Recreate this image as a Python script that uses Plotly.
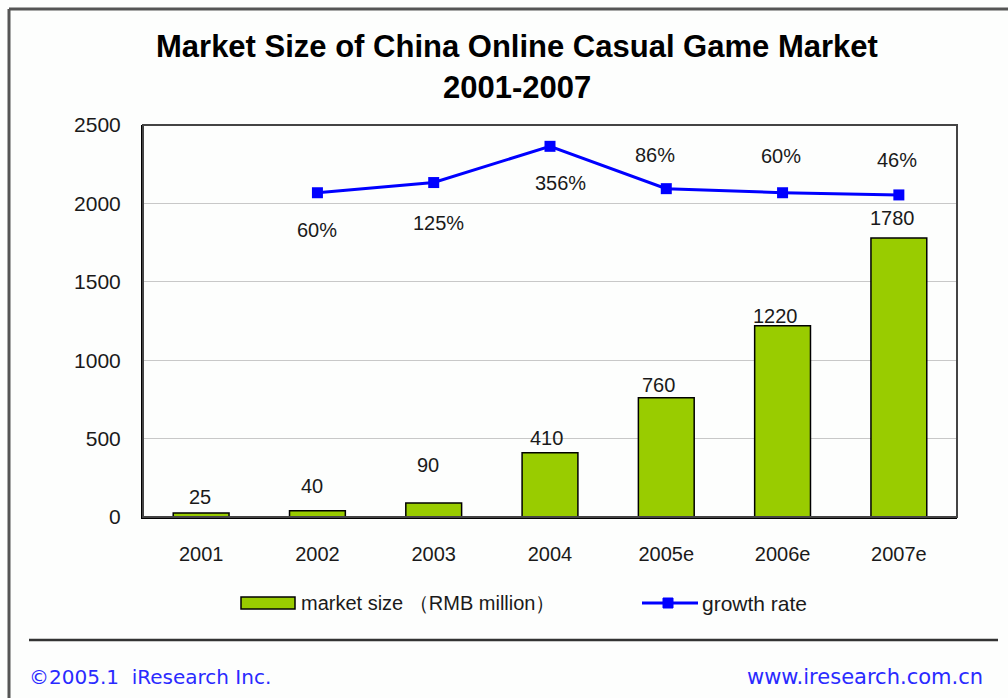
import plotly.graph_objects as go

# ---------------- data ----------------
years = ["2001", "2002", "2003", "2004", "2005e", "2006e", "2007e"]
market_size = [25, 40, 90, 410, 760, 1220, 1780]          # RMB million
growth_years = ["2002", "2003", "2004", "2005e", "2006e", "2007e"]
growth_rate = [60, 125, 356, 86, 60, 46]                    # %
y_ticks = [0, 500, 1000, 1500, 2000, 2500]

# category positions on the x scale
x_pos = list(range(len(years)))
growth_pos = [years.index(c) for c in growth_years]

# ---------------- styles (label offsets in px) ----------------
bar_label_dx = [-1, -5, -6, -4, -8, -7, -6]
bar_label_dy = [16, 25, 38, 15, 13, 10, 20]
growth_label_dx = [0, 5, 10, -11, -2, -2]
growth_label_dy = [-37, -40, -37, 34, 37, 35]

W, H = 1008, 698
L, R, T, B = 143, 957, 125, 517   # plot area in px


def px(x):
    return (x - L) / (R - L)


def py(y):
    return (B - y) / (B - T)


FONT = "Liberation Sans, Arial, sans-serif"
TXT = "#1a1a1a"
LBL = 20

fig = go.Figure()
fig.add_trace(go.Bar(
    x=x_pos, y=market_size, name="market size （RMB million）",
    marker=dict(color="#99CC00", line=dict(color="#000000", width=1.5)),
    width=0.48, showlegend=False, hovertext=years, hoverinfo="text+y",
))
fig.add_trace(go.Scatter(
    x=growth_pos, y=growth_rate, name="growth rate", yaxis="y2",
    mode="lines+markers",
    line=dict(color="#0000FF", width=3),
    marker=dict(symbol="square", size=11, color="#0000FF"),
    showlegend=False, hovertext=growth_years, hoverinfo="text+y",
))

annotations = []
for i, (c, v) in enumerate(zip(x_pos, market_size)):
    annotations.append(dict(x=c, y=v, xref="x", yref="y", text=str(v), showarrow=False,
                            xshift=bar_label_dx[i], yshift=bar_label_dy[i], yanchor="middle",
                            font=dict(family=FONT, size=LBL, color=TXT)))
for i, (c, g) in enumerate(zip(growth_pos, growth_rate)):
    annotations.append(dict(x=c, y=g, xref="x", yref="y2", text=f"{g}%", showarrow=False,
                            xshift=growth_label_dx[i], yshift=growth_label_dy[i], yanchor="middle",
                            font=dict(family=FONT, size=LBL, color=TXT)))

# title
annotations.append(dict(x=px(517), y=py(47), xref="paper", yref="paper", showarrow=False,
                        yanchor="middle", text="<b>Market Size of China Online Casual Game Market</b>",
                        font=dict(family=FONT, size=31, color="#000000")))
annotations.append(dict(x=px(517), y=py(88), xref="paper", yref="paper", showarrow=False,
                        yanchor="middle", text="<b>2001-2007</b>",
                        font=dict(family=FONT, size=31, color="#000000")))
# legend texts
annotations.append(dict(x=px(299), y=py(603), xref="paper", yref="paper", showarrow=False,
                        xanchor="left", yanchor="middle", text="market size （RMB million）",
                        font=dict(family=FONT, size=20, color=TXT)))
annotations.append(dict(x=px(700), y=py(603), xref="paper", yref="paper", showarrow=False,
                        xanchor="left", yanchor="middle", text="growth rate",
                        font=dict(family=FONT, size=21, color=TXT)))
# footer
FOOT = "DejaVu Sans, sans-serif"
annotations.append(dict(x=px(27), y=py(677), xref="paper", yref="paper", showarrow=False,
                        xanchor="left", yanchor="middle", text="©2005.1  iResearch Inc.",
                        font=dict(family=FOOT, size=20, color="#2a2aff")))
annotations.append(dict(x=px(985), y=py(677), xref="paper", yref="paper", showarrow=False,
                        xanchor="right", yanchor="middle", text="www.iresearch.com.cn",
                        font=dict(family=FOOT, size=21, color="#2a2aff")))

shapes = [
    # plot border (top/right gray)
    dict(type="rect", xref="paper", yref="paper", x0=0, x1=1, y0=0, y1=1,
         line=dict(color="#444444", width=2), layer="above"),
    # outer frame: top and left
    dict(type="line", xref="paper", yref="paper", x0=px(9), x1=px(1010), y0=py(9), y1=py(9),
         line=dict(color="#555555", width=3)),
    dict(type="line", xref="paper", yref="paper", x0=px(9), x1=px(9), y0=py(9), y1=py(700),
         line=dict(color="#555555", width=3)),
    # footer separator
    dict(type="line", xref="paper", yref="paper", x0=px(29), x1=px(998), y0=py(640), y1=py(640),
         line=dict(color="#333333", width=2.5)),
    # legend: bar swatch
    dict(type="rect", xref="paper", yref="paper", x0=px(241), x1=px(295), y0=py(609), y1=py(597),
         fillcolor="#99CC00", line=dict(color="#000000", width=1.5)),
    # legend: line swatch
    dict(type="line", xref="paper", yref="paper", x0=px(642), x1=px(698), y0=py(603), y1=py(603),
         line=dict(color="#0000FF", width=3)),
    dict(type="rect", xref="paper", yref="paper", x0=px(663), x1=px(673), y0=py(608), y1=py(598),
         fillcolor="#0000FF", line=dict(color="#0000FF", width=1)),
]

fig.update_layout(
    width=W, height=H,
    margin=dict(l=L, r=W - R, t=T, b=H - B, pad=0),
    paper_bgcolor="#FDFEFD", plot_bgcolor="#FDFEFD",
    font=dict(family=FONT, size=LBL, color=TXT),
    xaxis=dict(range=[-0.5, len(years) - 0.5], tickvals=x_pos, ticktext=years,
               showline=True, linecolor="#000000", linewidth=2, zeroline=False,
               ticks="", showgrid=False, tickfont=dict(size=LBL, color=TXT),
               ticklabelstandoff=18),
    yaxis=dict(range=[0, 2500], tickvals=y_ticks, showline=True, linecolor="#000000", linewidth=2,
               showgrid=True, gridcolor="#C8C8C8", gridwidth=1, zeroline=False,
               ticks="", tickfont=dict(size=21, color=TXT), ticklabelstandoff=16),
    yaxis2=dict(overlaying="y", range=[-2008, 492], visible=False, showgrid=False),
    annotations=annotations,
    shapes=shapes,
    showlegend=False,
)

fig.write_html("out.html")
